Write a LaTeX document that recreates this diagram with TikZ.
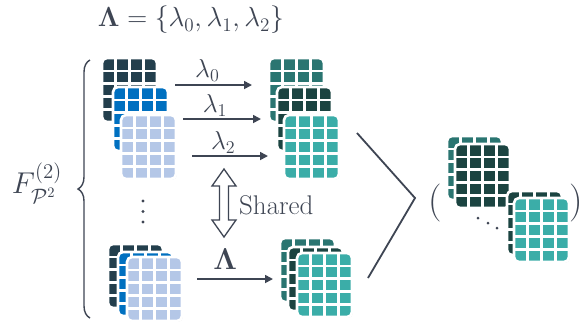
\documentclass[tikz,border=0pt]{standalone}
\usepackage{amsmath,amssymb,graphicx}
\usetikzlibrary{calc,shadows,decorations.pathreplacing,arrows.meta}
\definecolor{ink}{HTML}{3E4553}
\definecolor{mapdark}{HTML}{233F4D}
\definecolor{mapblue}{HTML}{0070C0}
\definecolor{maplight}{HTML}{B4C7E7}
\definecolor{mapteal}{HTML}{2A7571}
\definecolor{mapdeep}{HTML}{1B4441}
\definecolor{mapaqua}{HTML}{3BADA8}
% math set at 20pt and enlarged
\newcommand\bigmath[2]{\scalebox{#1}{\fontsize{20}{24}\selectfont $#2$}}
\tikzset{
  fmap/.style={anchor=north west, shape=rectangle, rounded corners=5pt,
    minimum width=55pt, minimum height=64pt, inner sep=0pt, outer sep=0pt,
    fill=#1, draw=white, line width=2.6pt,
    drop shadow={opacity=0.28, shadow xshift=0.9pt, shadow yshift=-0.9pt},
    path picture={
      \foreach \i in {1,2,3}{
        \draw[white,line width=2.6pt]
          ($(path picture bounding box.north west)!\i/4!(path picture bounding box.north east)$) --
          ($(path picture bounding box.south west)!\i/4!(path picture bounding box.south east)$);}
      \foreach \j in {1,2,3,4}{
        \draw[white,line width=2.6pt]
          ($(path picture bounding box.north west)!\j/5!(path picture bounding box.south west)$) --
          ($(path picture bounding box.north east)!\j/5!(path picture bounding box.south east)$);}
    }},
  flow/.style={draw=ink, line width=1.7pt, -{Triangle[length=8pt,width=8pt]}},
  lbl/.style={text=ink, inner sep=0pt},
}
\begin{document}
\begin{tikzpicture}[x=1pt,y=-1pt]
\useasboundingbox[fill=white] (0,0) rectangle (584,333);

% title
\node[lbl] (title) at (191,20) {\bigmath{1.33}{\mathbf{\Lambda}=\{\lambda_0,\lambda_1,\lambda_2\}}};

% brace and level label
\coordinate (bbot) at (90,318);
\coordinate (btop) at (90,60);
\draw[ink, line width=1.4pt, decorate, decoration={brace, amplitude=12pt}] (bbot) -- (btop);
\node[lbl] (flabel) at (37,183) {\bigmath{1.45}{F^{(2)}_{\mathcal{P}^2}}};

% per-level input maps
\node[fmap=mapdark]  (a0) at (102,58) {};
\node[fmap=mapblue]  (a1) at (113,87) {};
\node[fmap=maplight] (a2) at (121,115) {};

% per-level output maps
\node[fmap=mapteal] (b0) at (269,58) {};
\node[fmap=mapdeep] (b1) at (277,87) {};
\node[fmap=mapaqua] (b2) at (284,115) {};

% weighted arrows
\coordinate (p0s) at (175,85);  \coordinate (p0e) at (252,85);
\coordinate (p1s) at (183,119); \coordinate (p1e) at (261,119);
\coordinate (p2s) at (192,156); \coordinate (p2e) at (268,156);
\draw[flow] (p0s) -- node[lbl, pos=0.42, above=3pt] (l0) {\bigmath{1.25}{\lambda_0}} (p0e);
\draw[flow] (p1s) -- node[lbl, pos=0.41, above=2pt] (l1) {\bigmath{1.25}{\lambda_1}} (p1e);
\draw[flow] (p2s) -- node[lbl, pos=0.41, above=2pt] (l2) {\bigmath{1.25}{\lambda_2}} (p2e);

% vertical ellipsis
\foreach \yy in {201,211.5,222} \fill[ink] (143,\yy) circle (1.6pt);

% shared double arrow
\draw[ink, line width=1.3pt, fill=white, line join=miter]
  (224,169) -- (236,186) -- (228.5,186) -- (228.5,220) -- (236,220) -- (224,237)
  -- (212,220) -- (219.5,220) -- (219.5,186) -- (212,186) -- cycle;
\node[lbl, anchor=west] (shared) at (239,205) {\fontsize{27}{30}\selectfont Shared};

% bottom input maps
\node[fmap=mapdark]  (c0) at (108,244) {};
\node[fmap=mapblue]  (c1) at (118,252) {};
\node[fmap=maplight] (c2) at (127,257) {};

% bottom output maps
\node[fmap=mapteal] (d0) at (280,238) {};
\node[fmap=mapdeep] (d1) at (288,247) {};
\node[fmap=mapaqua] (d2) at (297,253) {};

\coordinate (qs) at (197,279); \coordinate (qe) at (273,279);
\draw[flow] (qs) -- node[lbl, pos=0.37, above=9pt] (lam) {\bigmath{1.45}{\mathbf{\Lambda}}} (qe);

% merge chevron
\coordinate (m0) at (357,133);
\coordinate (m1) at (415,198);
\coordinate (m2) at (368,278);
\draw[ink, line width=1.8pt] (m0) -- (m1) -- (m2);

% result tuple
\node[lbl] (lpar) at (435,203) {\fontsize{38}{40}\selectfont (};
\node[lbl] (rpar) at (576,203) {\fontsize{38}{40}\selectfont )};
\node[fmap=mapteal] (e0) at (447,136) {};
\node[fmap=mapdeep] (e1) at (455,144) {};
\node[fmap=mapdeep] (e2) at (507,191) {};
\node[fmap=mapaqua] (e3) at (514,198) {};
\foreach \px/\py in {478/218,488/223,497/228} \fill[ink] (\px,\py) circle (1.5pt);
\end{tikzpicture}
\end{document}
